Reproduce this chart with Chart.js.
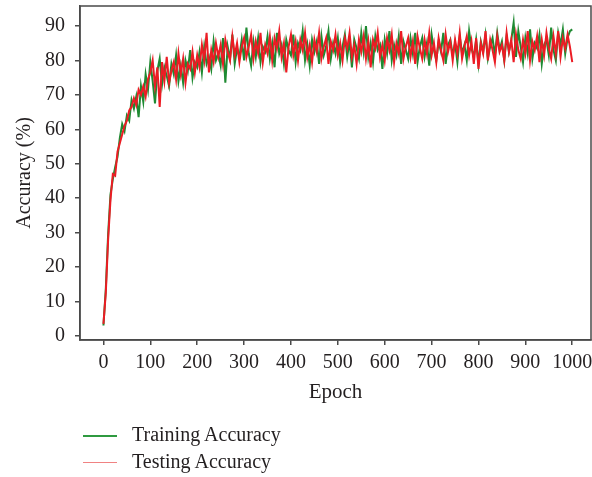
<!DOCTYPE html>
<html>
<head>
<meta charset="utf-8">
<title>Accuracy</title>
<script src="https://cdn.jsdelivr.net/npm/chart.js@4.4.1/dist/chart.umd.min.js"></script>
<style>
  html, body { margin: 0; padding: 0; background: #fff; }
  #wrap { position: relative; width: 592px; height: 477px; }
  #legend { position: absolute; left: 83px; top: 422px; font-family: 'Liberation Serif', 'DejaVu Serif', serif; font-size: 20px; line-height: 24px; color: #231f20; }
  .item { position: relative; height: 26.5px; padding-left: 49px; white-space: nowrap; }
  .item span.swatch { position: absolute; left: 0; top: 13px; width: 34px; height: 1.5px; }
</style>
</head>
<body>
<div id="wrap">
  <canvas id="accChart" width="592" height="477"></canvas>
  <div id="legend"></div>
</div>
<script>
// Accuracy values, one every 5 epochs (0 .. 1000)
const epochStep = 5;

const trainAcc = [
  3.0, 13.5, 29.5, 41.0, 45.5, 49.0, 52.0, 57.5, 61.5, 59.5,
  64.0, 62.5, 68.5, 66.0, 69.5, 63.5, 72.5, 68.0, 76.0, 71.5,
  79.5, 74.0, 67.5, 77.0, 80.5, 73.0, 78.0, 75.5, 72.5, 79.0,
  76.0, 81.5, 74.0, 78.5, 73.5, 80.0, 77.0, 83.0, 75.0, 79.5,
  78.0, 82.5, 76.5, 84.0, 79.0, 81.0, 77.5, 85.5, 80.0, 82.0,
  78.5, 86.5, 73.5, 84.0, 80.5, 87.5, 79.0, 83.5, 81.0, 86.0,
  80.0, 89.5, 82.0, 78.5, 85.5, 81.0, 86.5, 79.5, 84.0, 82.5,
  87.0, 80.5, 85.0, 78.0, 88.0, 82.0, 84.5, 79.0, 86.0, 83.0,
  81.5, 87.5, 79.5, 85.0, 83.0, 88.5, 80.0, 84.5, 78.5, 86.0,
  82.5, 85.5, 79.0, 87.0, 81.5, 84.0, 88.5, 80.5, 85.0, 82.0,
  86.5, 79.5, 84.0, 87.5, 81.0, 85.5, 78.0, 86.0, 83.5, 80.5,
  88.0, 82.5, 90.0, 81.0, 85.0, 79.5, 87.0, 83.0, 84.5, 77.5,
  86.0, 82.0, 88.5, 80.0, 84.5, 81.5, 87.0, 79.0, 85.5, 83.0,
  80.5, 86.5, 82.0, 88.0, 79.5, 84.0, 86.5, 81.0, 85.0, 78.5,
  87.5, 83.0, 80.0, 85.5, 82.5, 88.0, 79.0, 84.5, 86.0, 81.5,
  85.0, 79.5, 87.0, 82.0, 84.5, 80.0, 88.5, 83.5, 81.0, 86.0,
  79.0, 85.5, 82.5, 87.5, 80.5, 84.0, 86.5, 81.5, 88.0, 83.0,
  85.5, 80.0, 87.0, 82.5, 86.0, 91.0, 81.0, 88.5, 84.0, 79.5,
  86.5, 82.0, 89.0, 80.5, 85.0, 83.5, 87.5, 79.0, 84.5, 86.0,
  81.5, 89.5, 83.0, 80.0, 88.0, 84.5, 89.0, 82.0, 86.5, 88.5,
  89.0
];

const testAcc = [
  3.5, 12.5, 28.0, 39.5, 47.0, 46.5, 53.5, 56.0, 58.5, 61.0,
  62.5, 65.5, 66.5, 69.0, 67.0, 71.5, 70.0, 72.5, 69.5, 74.5,
  76.5, 80.0, 72.5, 78.0, 66.5, 79.5, 74.0, 81.0, 73.5, 77.0,
  79.5, 74.5, 82.0, 76.0, 80.5, 73.5, 79.0, 77.5, 82.5, 76.5,
  81.5, 78.0, 84.5, 80.0, 88.0, 76.5, 83.0, 79.5, 85.0, 81.0,
  84.5, 79.0, 86.0, 82.5, 80.0, 87.0, 81.5, 85.0, 79.5, 84.0,
  86.5, 81.0, 84.0, 87.5, 80.5, 85.5, 82.0, 88.0, 79.5, 84.5,
  82.0, 87.0, 80.0, 86.5, 83.5, 88.5, 81.0, 85.0, 76.5, 84.0,
  87.5, 81.5, 85.5, 80.0, 86.0, 83.0, 88.0, 81.0, 84.5, 79.5,
  86.0, 82.5, 88.0, 80.5, 84.0, 86.5, 79.0, 85.5, 83.0, 87.5,
  81.5, 85.0, 80.0, 86.5, 83.5, 88.0, 81.0, 84.5, 79.0, 86.0,
  82.5, 87.0, 80.5, 85.5, 78.0, 86.0, 83.5, 88.0, 81.0, 84.5,
  80.0, 86.5, 83.0, 87.5, 79.5, 85.0, 82.0, 88.5, 80.5, 84.0,
  86.5, 81.0, 85.5, 79.0, 87.0, 83.5, 80.5, 86.0, 82.0, 88.0,
  81.5, 85.0, 79.5, 86.5, 83.0, 80.0, 87.5, 82.5, 85.5, 80.0,
  86.0, 82.0, 88.0, 80.5, 84.0, 87.0, 81.5, 85.5, 79.0, 86.5,
  77.5, 85.0, 82.0, 88.5, 80.0, 86.0, 83.0, 79.5, 87.0, 82.5,
  84.5, 80.0, 88.0, 82.5, 86.0, 79.5, 87.5, 83.0, 80.5, 86.0,
  82.0, 88.5, 80.0, 85.5, 83.0, 87.0, 79.5, 86.0, 81.5, 88.0,
  83.5, 80.5, 87.0, 82.0, 88.5, 81.0, 86.5, 83.5, 87.5, 84.0,
  79.5
];

const xTicks = [0, 100, 200, 300, 400, 500, 600, 700, 800, 900, 1000];
const yTicks = [0, 10, 20, 30, 40, 50, 60, 70, 80, 90];

const fontFamily = "'Liberation Serif', 'DejaVu Serif', serif";
const textColor = '#231f20';
const frameColor = '#4a4a4a';

Chart.defaults.font.family = fontFamily;
Chart.defaults.color = textColor;

function toPoints(values) {
  return values.map((v, i) => ({ x: i * epochStep, y: v }));
}

// draws the closed box round the plot area
const framePlugin = {
  id: 'frame',
  afterDraw(chart) {
    const { ctx, chartArea: a } = chart;
    ctx.save();
    ctx.strokeStyle = frameColor;
    ctx.lineWidth = 1.5;
    ctx.strokeRect(a.left, a.top, a.right - a.left, a.bottom - a.top);
    ctx.restore();
  }
};

const ctx = document.getElementById('accChart').getContext('2d');
const accChart = new Chart(ctx, {
  type: 'line',
  data: {
    datasets: [
      {
        label: 'Training Accuracy',
        data: toPoints(trainAcc),
        borderColor: '#1f8a32',
        legendColor: '#2f9a40',
        borderWidth: 2,
        pointRadius: 0,
        tension: 0,
        order: 2
      },
      {
        label: 'Testing Accuracy',
        data: toPoints(testAcc),
        borderColor: '#ec1c24',
        legendColor: '#f08282',
        borderWidth: 2,
        pointRadius: 0,
        tension: 0,
        order: 1
      }
    ]
  },
  options: {
    responsive: false,
    animation: false,
    devicePixelRatio: 1,
    layout: { padding: { top: 6, right: 1, bottom: 72, left: 0 } },
    plugins: {
      legend: { display: false },
      tooltip: { enabled: false }
    },
    scales: {
      x: {
        type: 'linear',
        min: -50,
        max: 1040,
        afterBuildTicks: s => { s.ticks = xTicks.map(v => ({ value: v })); },
        afterFit: s => { s.height = 65; s.paddingLeft = 0; s.paddingRight = 0; },
        grid: { drawOnChartArea: false, drawTicks: true, tickLength: 5, color: frameColor, lineWidth: 1.5 },
        border: { display: true, color: frameColor, width: 1.5 },
        ticks: { padding: 6, autoSkip: false, maxRotation: 0, font: { size: 20 }, callback: v => String(v) },
        title: { display: true, text: 'Epoch', font: { size: 21 }, padding: { top: 0, bottom: 0 } }
      },
      y: {
        min: -1.2,
        max: 95.8,
        afterBuildTicks: s => { s.ticks = yTicks.map(v => ({ value: v })); },
        afterFit: s => { s.width = 80; s.paddingTop = 0; s.paddingBottom = 0; },
        grid: { drawOnChartArea: false, drawTicks: true, tickLength: 5, color: frameColor, lineWidth: 1.5 },
        border: { display: true, color: frameColor, width: 1.5 },
        ticks: { padding: 10, font: { size: 20 }, callback: v => String(v) },
        title: { display: true, text: 'Accuracy (%)', font: { size: 20 }, padding: { top: 13, bottom: 0 } }
      }
    }
  },
  plugins: [framePlugin]
});

// legend stacked under the plot, as in the figure
const legendBox = document.getElementById('legend');
accChart.data.datasets.forEach(ds => {
  const item = document.createElement('div');
  item.className = 'item';
  const swatch = document.createElement('span');
  swatch.className = 'swatch';
  swatch.style.background = ds.legendColor;
  item.appendChild(swatch);
  item.appendChild(document.createTextNode(ds.label));
  legendBox.appendChild(item);
});
</script>
</body>
</html>
